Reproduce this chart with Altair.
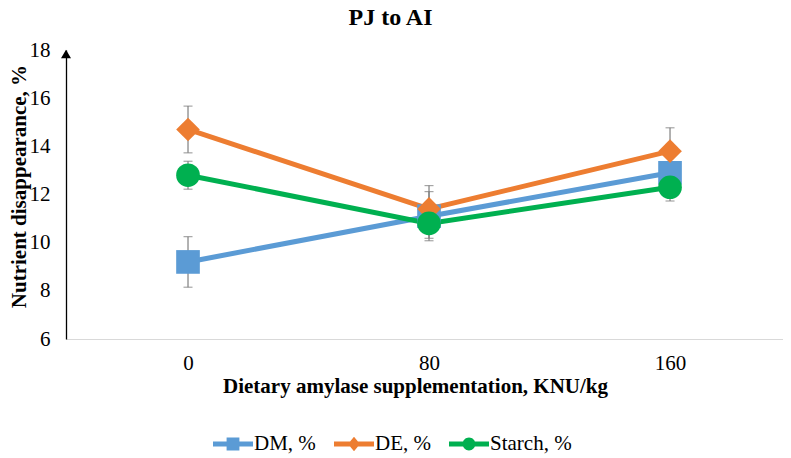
import altair as alt
import pandas as pd

# ---- data ----
doses = [0, 80, 160]
series_names = ["DM, %", "DE, %", "Starch, %"]
dm_vals = [9.2, 11.1, 12.9]
dm_err = [1.05, 1.02, 1.0]
de_vals = [14.7, 11.4, 13.8]
de_err = [0.97, 0.97, 0.97]
starch_vals = [12.8, 10.8, 12.3]
starch_err = [0.58, 0.62, 0.57]
y_ticks = [6, 8, 10, 12, 14, 16, 18]

colors = ["#5B9BD5", "#ED7D31", "#00B050"]
marker_shapes = ["square", "diamond", "circle"]
legend_paths = [
    "M-1,-0.125H1V0.125H-1Z M-0.32,-0.32H0.32V0.32H-0.32Z",
    "M-1,-0.125H1V0.125H-1Z M0,-0.36L0.3,0L0,0.36L-0.3,0Z",
    "M-1,-0.125H1V0.125H-1Z M0.32,0A0.32,0.32 0 1,1 -0.32,0A0.32,0.32 0 1,1 0.32,0Z",
]

rows = []
for name, vals, errs in zip(series_names, [dm_vals, de_vals, starch_vals], [dm_err, de_err, starch_err]):
    for d, v, e in zip(doses, vals, errs):
        rows.append({"dose": d, "series": name, "value": v, "err": e})
df = pd.DataFrame(rows)

FONT = "Liberation Serif"
W, H = 717, 289

xscale = alt.Scale(domain=[-40.5, 197.5], nice=False, zero=False)
yscale = alt.Scale(domain=[6, 18], nice=False, zero=False)
cscale = alt.Scale(domain=series_names, range=colors)
shscale = alt.Scale(domain=series_names, range=legend_paths)

base = alt.Chart(df)

x_enc = alt.X(
    "dose:Q",
    scale=xscale,
    axis=alt.Axis(
        values=doses,
        title="Dietary amylase supplementation, KNU/kg",
        grid=False,
        ticks=False,
        domainColor="#d9d9d9",
        domainWidth=1,
        labelFont=FONT,
        labelFontSize=21,
        labelColor="#000000",
        labelPadding=13,
        titleFont=FONT,
        titleFontSize=21,
        titleFontWeight="bold",
        titleColor="#000000",
        titlePadding=2,
        titleX=349,
    ),
)
y_enc = alt.Y(
    "value:Q",
    scale=yscale,
    axis=alt.Axis(
        values=y_ticks,
        title="Nutrient disappearance, %",
        grid=False,
        ticks=False,
        domainColor="#000000",
        domainWidth=1.3,
        labelFont=FONT,
        labelFontSize=21,
        labelColor="#000000",
        labelPadding=16,
        titleFont=FONT,
        titleFontSize=21,
        titleFontWeight="bold",
        titleColor="#000000",
        titlePadding=0,
        titleY=136,
    ),
)

err_base = base.transform_calculate(
    lo="datum.value - datum.err", hi="datum.value + datum.err"
)
err_rule = err_base.mark_rule(color="#7f7f7f", strokeWidth=1.2).encode(
    x=x_enc, y=alt.Y("lo:Q", scale=yscale), y2="hi:Q"
)
err_cap_hi = err_base.mark_tick(
    color="#7f7f7f", orient="horizontal", size=9, thickness=1.2
).encode(x=alt.X("dose:Q", scale=xscale), y=alt.Y("hi:Q", scale=yscale))
err_cap_lo = err_base.mark_tick(
    color="#7f7f7f", orient="horizontal", size=9, thickness=1.2
).encode(x=alt.X("dose:Q", scale=xscale), y=alt.Y("lo:Q", scale=yscale))

legend_spec = alt.Legend(
    title=None,
    orient="none",
    legendX=147,
    legendY=374,
    direction="horizontal",
    symbolSize=1600,
    symbolStrokeWidth=0,
    labelFont=FONT,
    labelFontSize=21,
    labelColor="#000000",
    labelOffset=1,
    columnPadding=18,
)

lines = base.mark_line(strokeWidth=5).encode(
    x=alt.X("dose:Q", scale=xscale),
    y=alt.Y("value:Q", scale=yscale),
    color=alt.Color("series:N", scale=cscale, legend=legend_spec),
    shape=alt.Shape("series:N", scale=shscale, legend=legend_spec),
    detail="series:N",
    order="dose:Q",
)

point_layers = []
for name, shp in zip(series_names, marker_shapes):
    point_layers.append(
        base.transform_filter(alt.datum.series == name)
        .mark_point(filled=True, opacity=1, shape=shp, size=560, strokeWidth=0)
        .encode(
            x=alt.X("dose:Q", scale=xscale),
            y=alt.Y("value:Q", scale=yscale),
            color=alt.Color("series:N", scale=cscale, legend=None),
        )
    )

arrow = base.transform_filter(alt.datum.dose == 0).transform_filter(
    alt.datum.series == series_names[0]
).mark_point(shape="triangle-up", filled=True, size=100, color="#000000", opacity=1).encode(
    x=alt.value(0), y=alt.value(4)
)

chart = (
    alt.layer(err_rule, err_cap_hi, err_cap_lo, lines, *point_layers, arrow)
    .encode(y=y_enc)
    .properties(
        width=W,
        height=H,
        title=alt.TitleParams(
            "PJ to AI",
            font=FONT,
            fontSize=24,
            fontWeight="bold",
            color="#000000",
            anchor="middle",
            dx=-34,
            offset=9,
        ),
        autosize=alt.AutoSizeParams(type="none"),
        padding={"left": 58, "top": 42, "right": 0, "bottom": 118},
    )
    .configure_view(stroke=None)
)

chart.save("out.html", embed_options={"renderer": "svg", "actions": False})
